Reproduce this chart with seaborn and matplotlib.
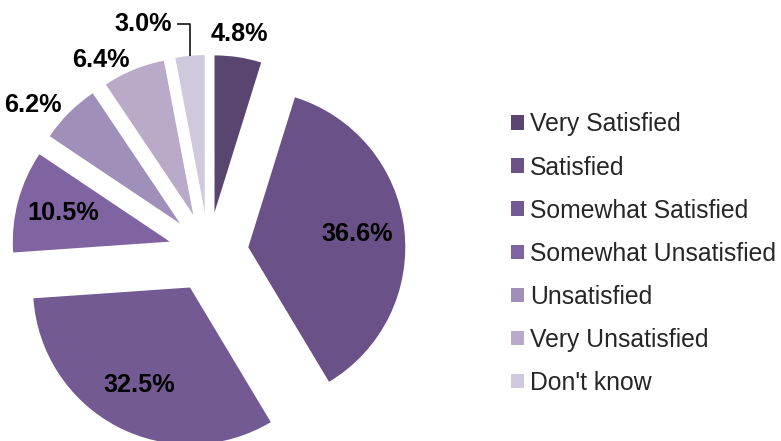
import matplotlib
matplotlib.use("Agg")
import matplotlib.pyplot as plt
import seaborn as sns
import numpy as np

categories = ["Very Satisfied", "Satisfied", "Somewhat Satisfied",
              "Somewhat Unsatisfied", "Unsatisfied", "Very Unsatisfied", "Don't know"]
shares = [4.8, 36.6, 32.5, 10.5, 6.2, 6.4, 3.0]
colors = ["#5a4570", "#6a5188", "#735a93", "#7f64a1", "#a08fb8", "#b8aac8", "#d0c8dc"]
# where each percentage goes: inside the slice, outside it, or off to the side with a leader line
label_place = ["out", "in", "in", "in", "out", "out", "leader"]

sns.set_theme(style="white")
plt.rcParams["font.family"] = ["Liberation Sans", "DejaVu Sans"]

fig = plt.figure(figsize=(7.81, 4.41), dpi=100)
ax = fig.add_axes([0, 0, 1, 1])

wedges, _ = ax.pie(
    shares,
    colors=colors,
    startangle=90,
    counterclock=False,
    explode=[0.255] * len(shares),
    wedgeprops=dict(linewidth=0),
)

font = dict(fontsize=18.2, fontweight="bold", color="black")
for w, val, place in zip(wedges, shares, label_place):
    ang = np.deg2rad((w.theta1 + w.theta2) / 2)
    ux, uy = np.cos(ang), np.sin(ang)
    cx, cy = w.center
    txt = f"{val:.1f}%"
    if place == "in":
        ax.text(cx + 0.7 * ux, cy + 0.7 * uy, txt, ha="center", va="center", **font)
    elif place == "out":
        px, py = cx + 1.07 * ux, cy + 1.07 * uy
        if abs(ux) < 0.3:
            ax.text(px, py, txt, ha="center", va="bottom", **font)
        else:
            ax.text(px, py, txt, ha="right" if ux < 0 else "left", va="center", **font)
    else:
        x0, y0 = cx + ux, cy + uy
        y1 = y0 + 0.2
        x1 = x0 - 0.08
        ax.plot([x0, x0, x1], [y0, y1, y1], color="black", lw=1.1, solid_capstyle="butt")
        ax.text(x1 - 0.035, y1, txt, ha="right", va="center", **font)

ax.set_aspect("auto")
ax.set_xlim(-1.328, 3.646)
ax.set_ylim(-1.204, 1.605)
ax.axis("off")

fig.legend(
    wedges, categories,
    loc="center left",
    bbox_to_anchor=(0.654, 0.425),
    frameon=False,
    fontsize=17.8,
    handlelength=0.53,
    handleheight=0.53,
    handletextpad=0.25,
    labelspacing=0.77,
    borderpad=0,
    borderaxespad=0,
)

fig.savefig("out.png", dpi=100)
